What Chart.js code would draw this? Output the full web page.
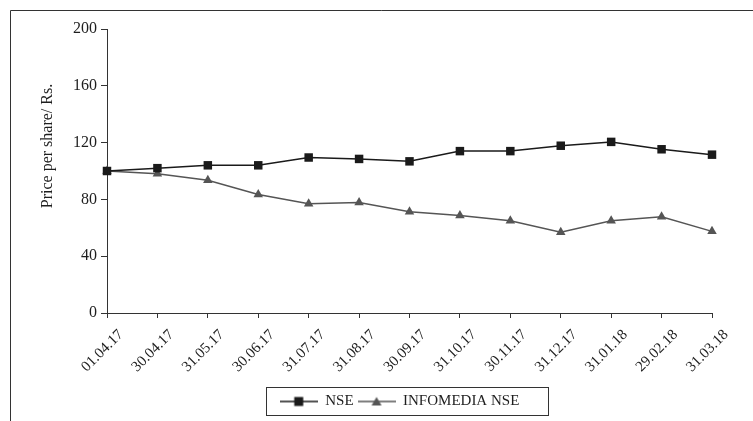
<!DOCTYPE html>
<html>
<head>
<meta charset="utf-8">
<script src="https://cdn.jsdelivr.net/npm/chart.js@4.4.1/dist/chart.umd.min.js"></script>
<style>
  html, body { margin: 0; padding: 0; background: #fff; }
  #wrap { position: relative; width: 753px; height: 421px; }
</style>
</head>
<body>
<div id="wrap"><canvas id="chart"></canvas></div>
<script>
const dates = ['01.04.17', '30.04.17', '31.05.17', '30.06.17', '31.07.17', '31.08.17', '30.09.17',
  '31.10.17', '30.11.17', '31.12.17', '31.01.18', '29.02.18', '31.03.18'];
const nse = [100, 102, 104, 104, 109.5, 108.5, 106.8, 114, 114, 117.8, 120.5, 115.3, 111.5];
const infomedia = [100, 98, 93.5, 83.5, 77, 77.8, 71.3, 68.6, 65, 56.8, 65, 67.8, 57.5];
const yTicks = [0, 40, 80, 120, 160, 200];
const yTitle = 'Price per share/ Rs.';

const FONT = 'Liberation Serif, Times New Roman, serif';
const TEXT = '#1e1e1e';
const AXIS = '#333333';

// little "line with marker" picture used as the legend symbol
function legendSymbol(color, style) {
  const c = document.createElement('canvas');
  c.width = 38;
  c.height = 12;
  const g = c.getContext('2d');
  g.strokeStyle = color;
  g.lineWidth = 1.5;
  g.beginPath();
  g.moveTo(0, 6);
  g.lineTo(38, 6);
  g.stroke();
  g.fillStyle = color;
  g.beginPath();
  if (style === 'rect') {
    g.rect(19 - 4.5, 6 - 4.5, 9, 9);
  } else {
    g.moveTo(19, 1.5);
    g.lineTo(24, 10);
    g.lineTo(14, 10);
    g.closePath();
  }
  g.fill();
  return c;
}

const frame = {
  id: 'frame',
  afterLayout(chart) {
    // the legend sits a little left of the plot centre in the original
    chart.legend.left -= 10;
    chart.legend.right -= 10;
  },
  afterDraw(chart) {
    const ctx = chart.ctx;
    const area = chart.chartArea;
    ctx.save();
    ctx.strokeStyle = AXIS;
    ctx.lineWidth = 1;
    // outer border, top and left
    ctx.beginPath();
    ctx.moveTo(10.5, chart.height);
    ctx.lineTo(10.5, 10.5);
    ctx.lineTo(chart.width, 10.5);
    ctx.stroke();
    // box round the legend
    const boxes = chart.legend.legendHitBoxes;
    if (boxes.length) {
      const first = boxes[0];
      const last = boxes[boxes.length - 1];
      const l = Math.round(first.left - 14) + 0.5;
      const r = Math.round(last.left + last.width + 29) + 0.5;
      const t = Math.round(first.top + first.height / 2 - 15) + 0.5;
      ctx.strokeRect(l, t, r - l, 28);
    }
    // y axis title, set higher than the plot centre as in the original
    ctx.fillStyle = TEXT;
    ctx.font = '16px ' + FONT;
    ctx.textAlign = 'center';
    ctx.textBaseline = 'middle';
    ctx.translate(area.left - 59, (area.top + area.bottom) / 2 - 25);
    ctx.rotate(-Math.PI / 2);
    ctx.fillText(yTitle, 0, 0);
    ctx.restore();
  }
};

new Chart(document.getElementById('chart'), {
  type: 'line',
  data: {
    labels: dates,
    datasets: [
      {
        label: 'NSE',
        data: nse,
        borderColor: '#1a1a1a',
        backgroundColor: '#1a1a1a',
        borderWidth: 1.5,
        pointStyle: 'rect',
        pointRadius: 6,
        pointBorderWidth: 0,
        tension: 0,
      },
      {
        label: 'INFOMEDIA NSE',
        data: infomedia,
        borderColor: '#555555',
        backgroundColor: '#555555',
        borderWidth: 1.5,
        pointStyle: 'triangle',
        pointRadius: 5.5,
        pointBorderWidth: 0,
        tension: 0,
      },
    ],
  },
  options: {
    responsive: true,
    maintainAspectRatio: false,
    animation: false,
    devicePixelRatio: 1,
    layout: {
      padding: { left: 34, right: 41, top: 29, bottom: 2 },
    },
    plugins: {
      tooltip: { enabled: false },
      legend: {
        position: 'bottom',
        fullSize: false,
        labels: {
          usePointStyle: true,
          pointStyleWidth: 38,
          padding: 4,
          color: TEXT,
          font: { family: FONT, size: 15 },
          generateLabels(chart) {
            const items = Chart.defaults.plugins.legend.labels.generateLabels(chart);
            items.forEach((item, i) => {
              const ds = chart.data.datasets[i];
              item.pointStyle = legendSymbol(ds.borderColor, ds.pointStyle);
            });
            return items;
          },
        },
      },
    },
    scales: {
      x: {
        offset: false,
        afterFit(scale) { scale.height = 77; },
        grid: {
          drawOnChartArea: false,
          drawTicks: true,
          tickLength: 5,
          color: AXIS,
        },
        border: { display: true, color: AXIS, width: 1 },
        ticks: {
          minRotation: 45,
          maxRotation: 45,
          autoSkip: false,
          padding: 8,
          labelOffset: 14,
          color: TEXT,
          font: { family: FONT, size: 15 },
        },
      },
      y: {
        min: 0,
        max: 200,
        afterFit(scale) { scale.width = 73; },
        afterBuildTicks(scale) { scale.ticks = yTicks.map(v => ({ value: v })); },
        grid: {
          drawOnChartArea: false,
          drawTicks: true,
          tickLength: 6,
          color: AXIS,
        },
        border: { display: true, color: AXIS, width: 1 },
        ticks: {
          padding: 4,
          color: TEXT,
          font: { family: FONT, size: 16 },
        },
      },
    },
  },
  plugins: [frame],
});
</script>
</body>
</html>
